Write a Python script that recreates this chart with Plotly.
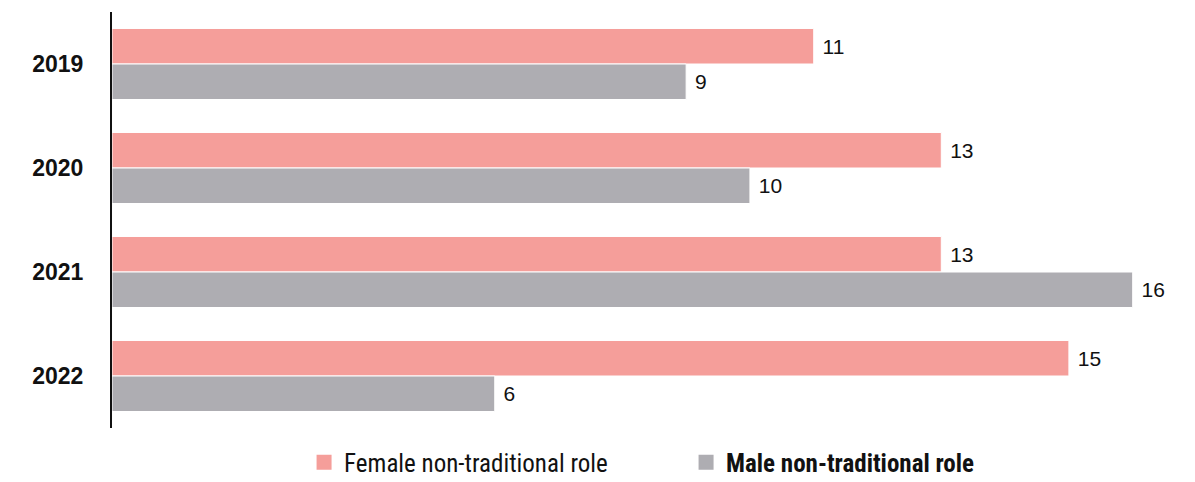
import plotly.graph_objects as go

years = ["2019", "2020", "2021", "2022"]
female = [11, 13, 13, 15]
male = [9, 10, 16, 6]
female_name = "Female non-traditional role"
male_name = "Male non-traditional role"
female_color = "#F59E9A"
male_color = "#AEADB2"

NUM_FONT = "Liberation Sans, Arial, sans-serif"
LEG_FONT = "Liberation Sans Narrow, Roboto Condensed, Roboto, sans-serif"

fig = go.Figure()
fig.add_trace(go.Bar(
    y=years, x=female, orientation="h", name=female_name, showlegend=False,
    marker=dict(color=female_color, line=dict(color="white", width=1)),
    texttemplate=" %{x}", textposition="outside",
    textfont=dict(size=21, color="#111111", family=NUM_FONT), cliponaxis=False,
))
fig.add_trace(go.Bar(
    y=years, x=male, orientation="h", name=male_name, showlegend=False,
    marker=dict(color=male_color, line=dict(color="white", width=1)),
    texttemplate=" %{x}", textposition="outside",
    textfont=dict(size=21, color="#111111", family=NUM_FONT), cliponaxis=False,
))
# legend entries with square swatches
fig.add_trace(go.Scatter(x=[None], y=[None], mode="markers", name=female_name,
                         marker=dict(symbol="square", size=15, color=female_color)))
fig.add_trace(go.Scatter(x=[None], y=[None], mode="markers", name="<b>" + male_name + "</b>",
                         marker=dict(symbol="square", size=15, color=male_color)))

fig.update_layout(
    width=1195, height=482,
    margin=dict(l=112, r=10, t=12, b=54, autoexpand=False),
    paper_bgcolor="white", plot_bgcolor="white",
    barmode="group", bargap=0.317, bargroupgap=0,
    font=dict(family=NUM_FONT, size=21, color="#111111"),
    showlegend=True,
    legend=dict(orientation="h", x=0.179, xanchor="left",
                yref="container", y=0.088, yanchor="top",
                entrywidth=337, entrywidthmode="pixels",
                font=dict(size=25, family=LEG_FONT, color="#111111")),
)
fig.update_xaxes(range=[0, 16.82], visible=False, showgrid=False, zeroline=False)
fig.update_yaxes(autorange="reversed", showline=True, linecolor="#111111", linewidth=2,
                 showgrid=False, ticks="", ticklabelstandoff=22,
                 categoryorder="array", categoryarray=years,
                 tickfont=dict(size=23, family=NUM_FONT, color="#111111", weight="bold"))

fig.write_html("out.html")
